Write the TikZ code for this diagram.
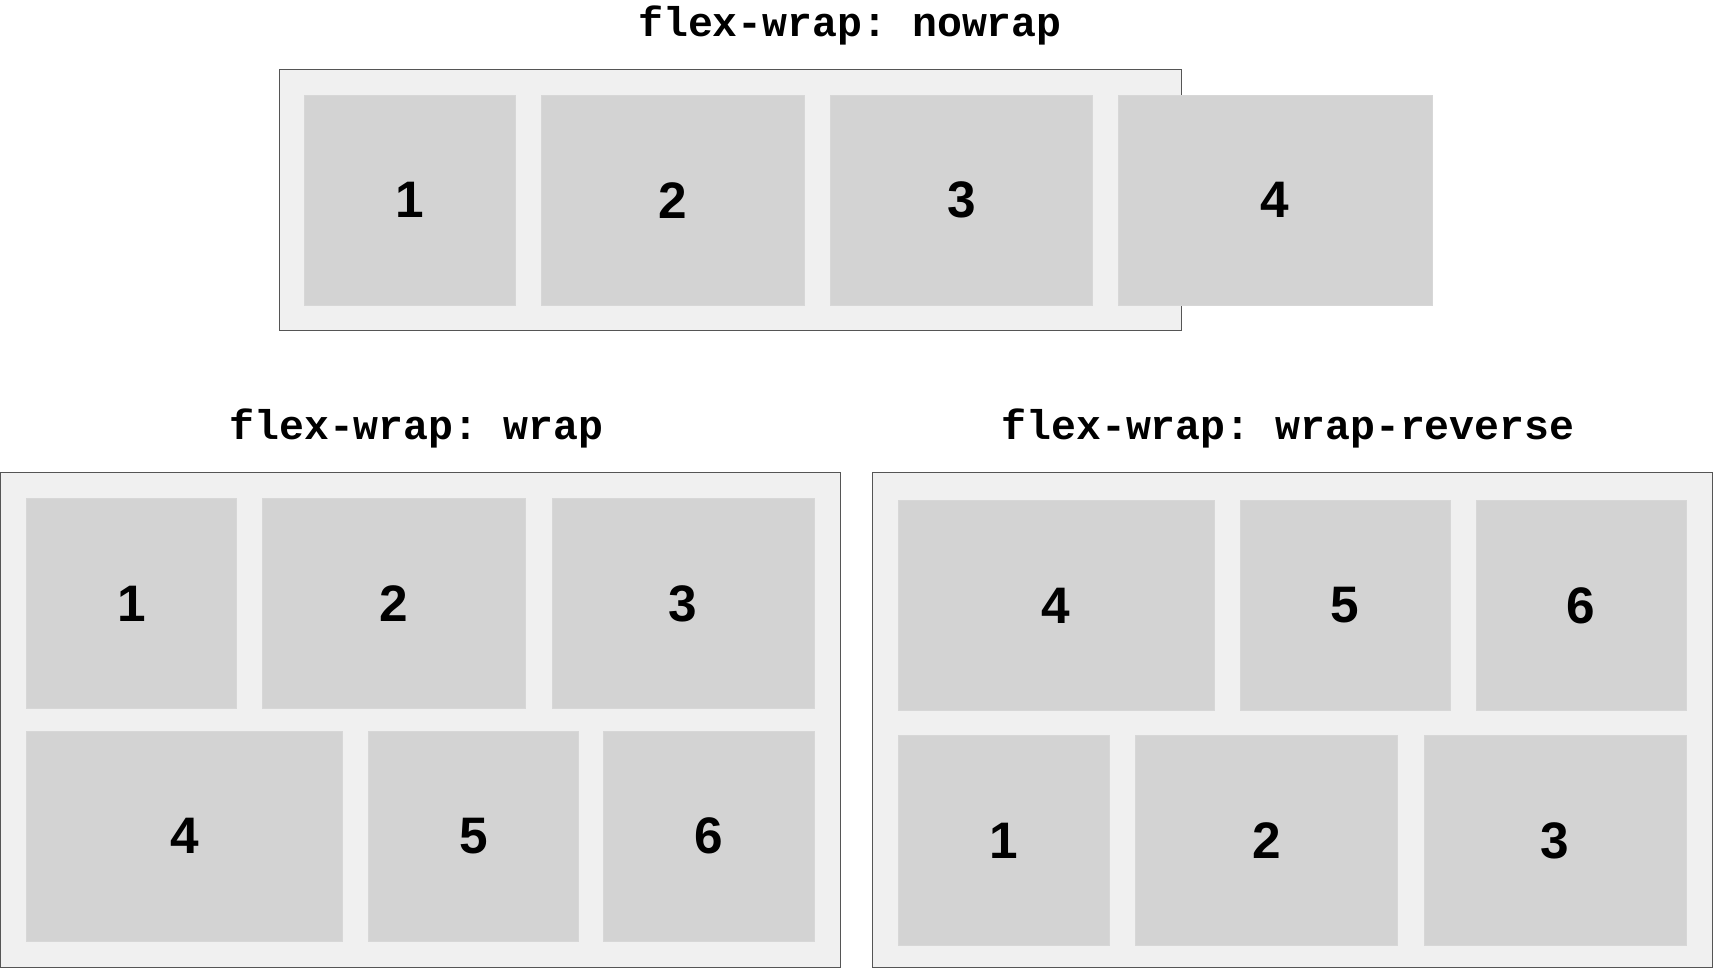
\documentclass[tikz,border=0pt]{standalone}
\usepackage{fontspec}
\setmainfont{Liberation Sans}
\setmonofont{Liberation Mono}
\usetikzlibrary{positioning}

\definecolor{boxfill}{HTML}{F0F0F0}
\definecolor{itemfill}{HTML}{D3D3D3}
\definecolor{boxline}{HTML}{555555}

\begin{document}
\begin{tikzpicture}[x=1pt,y=-1pt,
  title/.style={anchor=base,inner sep=0pt,font=\fontsize{38}{40}\selectfont\ttfamily\bfseries},
  box/.style={anchor=north west,draw=boxline,line width=1.1pt,fill=boxfill,inner sep=0pt},
  item/.style={anchor=north west,fill=itemfill,draw=itemfill!90!white,line width=0.6pt,inner sep=0pt,
    minimum height=192pt,font=\fontsize{47}{49}\selectfont\bfseries}]
  \useasboundingbox (0,0) rectangle (1568,886);

  % nowrap
  \node[title] (tnowrap) at (778,33) {flex-wrap: nowrap};
  \node[box,minimum width=826pt,minimum height=239pt] (nowrap) at (255,63) {};
  \node[item,minimum width=193pt] (n1) at (278,87) {1};
  \node[item,minimum width=241pt] (n2) at (495,87) {2};
  \node[item,minimum width=240pt] (n3) at (760,87) {3};
  \node[item,minimum width=288pt] (n4) at (1023,87) {4};

  % wrap
  \node[title] (twrap) at (381,402) {flex-wrap: wrap};
  \node[box,minimum width=769pt,minimum height=453pt] (wrap) at (0,432) {};
  \node[item,minimum width=192pt] (w1) at (24,456) {1};
  \node[item,minimum width=241pt] (w2) at (240,456) {2};
  \node[item,minimum width=240pt] (w3) at (505,456) {3};
  \node[item,minimum width=289pt] (w4) at (24,669) {4};
  \node[item,minimum width=192pt] (w5) at (337,669) {5};
  \node[item,minimum width=193pt] (w6) at (552,669) {6};

  % wrap-reverse
  \node[title] (trev) at (1179,402) {flex-wrap: wrap-reverse};
  \node[box,minimum width=769pt,minimum height=453pt] (rev) at (798,432) {};
  \node[item,minimum width=289pt] (r4) at (822,458) {4};
  \node[item,minimum width=192pt] (r5) at (1135,458) {5};
  \node[item,minimum width=192pt] (r6) at (1351,458) {6};
  \node[item,minimum width=193pt] (r1) at (822,673) {1};
  \node[item,minimum width=240pt] (r2) at (1039,673) {2};
  \node[item,minimum width=240pt] (r3) at (1303,673) {3};
\end{tikzpicture}
\end{document}
